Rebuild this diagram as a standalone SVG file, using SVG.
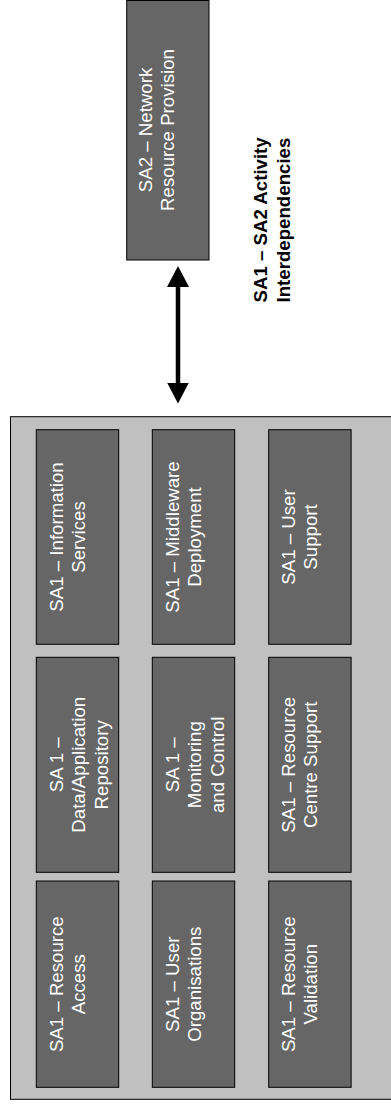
<svg xmlns="http://www.w3.org/2000/svg" width="391" height="1104" viewBox="0 0 391 1104">
<style>
.box{fill:#666666;stroke:#000;stroke-width:1}
.cont{fill:#c0c0c0;stroke:#000;stroke-width:1}
.lbl{font-family:"Liberation Sans",Arial,sans-serif;font-size:18.67px;fill:#ffffff;text-anchor:middle}
.title{font-family:"Liberation Sans",Arial,sans-serif;font-size:18.67px;font-weight:bold;fill:#000;text-anchor:start}
.conn{stroke:#000;stroke-width:4.5;fill:none}
</style>
<defs>
<marker id="head" viewBox="0 0 21 22" refX="7" refY="11" markerWidth="21" markerHeight="22" markerUnits="userSpaceOnUse" orient="auto-start-reverse">
<path d="M0,0 L21,11 L0,22 z" fill="#000"/>
</marker>
</defs>
<rect width="391" height="1104" fill="#fff"/>
<g id="sa1-container">
<rect class="cont" x="10.5" y="416.7" width="400" height="682.6"/>
</g>
<g id="sa2-network">
<rect class="box" x="126.7" y="0.5" width="82.3" height="259.5"/>
<text class="lbl" transform="translate(151.7,130) rotate(-90)"><tspan x="0" dy="0">SA2 – Network</tspan><tspan x="0" dy="22.5">Resource Provision</tspan></text>
</g>
<g id="title">
<text class="title" transform="translate(267.4,302.5) rotate(-90)"><tspan x="0" dy="0">SA1 – SA2 Activity</tspan><tspan x="0" dy="22.6">Interdependencies</tspan></text>
</g>
<g id="connectors">
<line class="conn" x1="178" y1="280" x2="178" y2="389.5" marker-start="url(#head)" marker-end="url(#head)"/>
</g>
<g id="info-services">
<rect class="box" x="36.3" y="429.7" width="82.4" height="214.6"/>
<text class="lbl" transform="translate(62.5,537) rotate(-90)"><tspan x="0" dy="0">SA1 – Information</tspan><tspan x="0" dy="22.5">Services</tspan></text>
</g>
<g id="middleware-deployment">
<rect class="box" x="152.3" y="429.7" width="82.4" height="214.6"/>
<text class="lbl" transform="translate(178.5,537) rotate(-90)"><tspan x="0" dy="0">SA1 – Middleware</tspan><tspan x="0" dy="22.5">Deployment</tspan></text>
</g>
<g id="user-support">
<rect class="box" x="268.7" y="429.7" width="82.4" height="214.6"/>
<text class="lbl" transform="translate(294.9,537) rotate(-90)"><tspan x="0" dy="0">SA1 – User</tspan><tspan x="0" dy="22.5">Support</tspan></text>
</g>
<g id="data-app-repository">
<rect class="box" x="36.3" y="657.3" width="82.4" height="215"/>
<text class="lbl" transform="translate(62.5,764.8) rotate(-90)"><tspan x="0" dy="0">SA 1 –</tspan><tspan x="0" dy="22.5">Data/Application</tspan><tspan x="0" dy="22.5">Repository</tspan></text>
</g>
<g id="monitoring-control">
<rect class="box" x="152.3" y="657.3" width="82.4" height="215"/>
<text class="lbl" transform="translate(178.5,764.8) rotate(-90)"><tspan x="0" dy="0">SA 1 –</tspan><tspan x="0" dy="22.5">Monitoring</tspan><tspan x="0" dy="22.5">and Control</tspan></text>
</g>
<g id="resource-centre-support">
<rect class="box" x="268.7" y="657.3" width="82.4" height="215"/>
<text class="lbl" transform="translate(294.9,764.8) rotate(-90)"><tspan x="0" dy="0">SA1 – Resource</tspan><tspan x="0" dy="22.5">Centre Support</tspan></text>
</g>
<g id="resource-access">
<rect class="box" x="36.3" y="881" width="82.4" height="206.3"/>
<text class="lbl" transform="translate(62.5,984.2) rotate(-90)"><tspan x="0" dy="0">SA1 – Resource</tspan><tspan x="0" dy="22.5">Access</tspan></text>
</g>
<g id="user-organisations">
<rect class="box" x="152.3" y="881" width="82.4" height="206.3"/>
<text class="lbl" transform="translate(178.5,984.2) rotate(-90)"><tspan x="0" dy="0">SA1 – User</tspan><tspan x="0" dy="22.5">Organisations</tspan></text>
</g>
<g id="resource-validation">
<rect class="box" x="268.7" y="881" width="82.4" height="206.3"/>
<text class="lbl" transform="translate(294.9,984.2) rotate(-90)"><tspan x="0" dy="0">SA1 – Resource</tspan><tspan x="0" dy="22.5">Validation</tspan></text>
</g>
</svg>
